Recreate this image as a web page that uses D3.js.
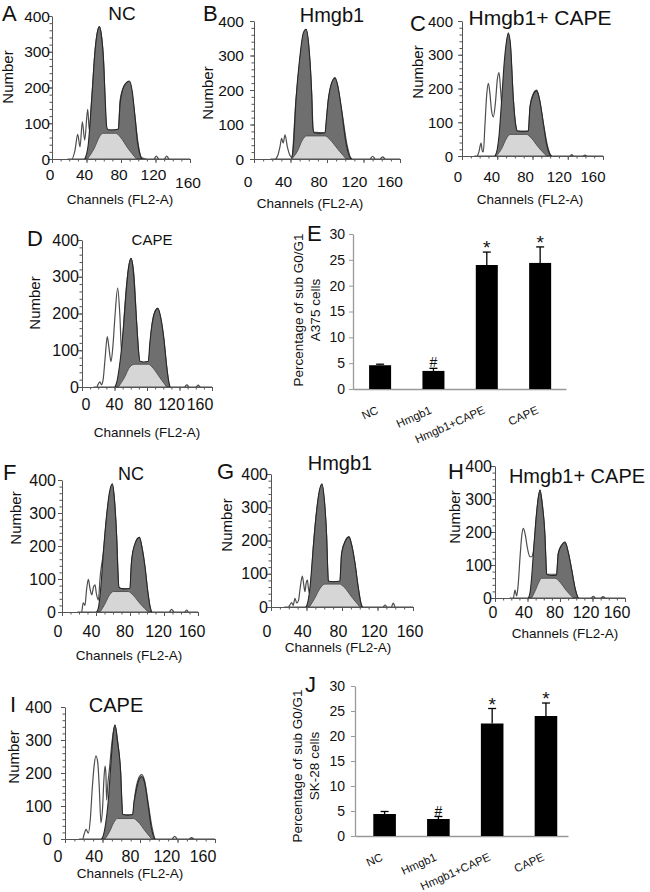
<!DOCTYPE html>
<html><head><meta charset="utf-8">
<script src="https://cdn.jsdelivr.net/npm/d3@7"></script>
<style>body{margin:0;background:#fff}svg{display:block;font-family:"Liberation Sans",Arial,sans-serif}</style>
</head><body><svg id="c" width="650" height="892"></svg>
<script>
// ---------- data ----------
const channelTicks = [0, 40, 80, 120, 160];
const countTicks = [0, 100, 200, 300, 400];
const pctTicks = [0, 5, 10, 15, 20, 25, 30];
const groups = ["NC", "Hmgb1", "Hmgb1+CAPE", "CAPE"];

// histograms: [channel, number]
const rawA = [[18,0],[23,0],[26.7,25],[29.8,69],[32.5,34],[35.2,104],[37.9,53],[41.4,139],[43.3,80],[46,165],[50,305],[55,370],[59.5,286],[63.4,81],[70,81],[77,81],[79,165],[84,205],[89.6,216],[93,180],[96.2,118],[100,40],[104,3],[110,0],[118,0],[121,8],[124,0],[130,0],[133,8],[136,0],[160,0]];
const modelA = [[38,0],[42,40],[46,165],[50,305],[53,360],[55,370],[57,350],[59.5,286],[62,150],[63.4,90],[65,82],[70,81],[77,84],[78.8,150],[82,195],[86,213],[89.6,218],[93,190],[96.2,118],[99,50],[102,12],[104,0]];
const sA = [[41,0],[49,30],[55,62],[59,72],[74,72],[79,62],[88,30],[98,0]];

const rawB = [[18,0],[23,0],[26,10],[28.5,36],[30.3,60],[32,46],[34,70],[36.5,36],[39.5,10],[41.3,5],[46,171],[57,376],[63.2,190],[65,78],[77.8,76],[81.4,171],[88.8,236],[96,142],[102,40],[107,0],[127,0],[130,8],[133,0],[138,0],[141,6],[144,0],[160,0]];
const modelB = [[41.3,0],[43,30],[46,171],[50,290],[54,365],[57,376],[60,330],[63.2,190],[64.5,90],[66,76],[72,74],[77.8,76],[79.5,120],[81.4,171],[85,220],[88.8,234],[92,210],[96,142],[100,60],[104,12],[107,0]];
const sB = [[41.3,0],[48,25],[53,55],[57.7,67],[78,67],[83,57],[92,28],[101,0]];

const rawC = [[14,0],[16.7,0],[19,10],[21.6,38],[23,15],[24.2,12],[26,90],[28,180],[29.9,215],[31.5,190],[33.5,135],[35.6,116],[38,160],[40,225],[42,247],[44,190],[46.2,127],[48,180],[50,300],[52.6,365],[55,320],[58.3,166],[61,90],[62.8,74],[75.3,74],[77.2,146],[81,185],[84.8,195],[88,165],[92.3,97],[97,30],[101.8,0],[122,0],[124.5,4],[127,0],[137,0],[139.6,3],[142,0],[160,0]];
const modelC = [[37.5,0],[40,20],[42,60],[45,166],[48,280],[50.5,340],[52.6,363],[55,330],[58.3,166],[61,90],[62.8,74],[70,72],[75.3,74],[77.2,146],[81,182],[84.8,193],[88,168],[92.3,97],[96,35],[99,8],[101.8,0]];
const sC = [[39,0],[45,22],[50,50],[54.5,64],[73.5,64],[79,52],[87,25],[96,0]];

const rawD = [[14,0],[18,0],[20,8],[22,14],[24,6],[26,20],[28.5,80],[31.1,137],[33,110],[35.7,69],[38,110],[40.5,190],[43.9,269],[46.5,200],[48.9,91],[50.8,155],[55,280],[60.3,350],[64,300],[67.3,173],[71.4,66],[81.6,68],[85.8,164],[89,200],[93.2,214],[97,185],[100.9,128],[104.5,50],[108.3,0],[126,0],[129,6],[132,0],[140,0],[143,5],[146,0],[160,0]];
const modelD = [[40.6,0],[43,15],[46,55],[50.8,155],[54,250],[57,320],[60.3,350],[63,320],[67.3,173],[69.5,100],[71.4,70],[76,68],[81.6,70],[83.5,120],[85.8,164],[89,200],[93.2,214],[97,188],[100.9,128],[104,60],[106.5,18],[108.3,0]];
const sD = [[44.7,0],[52,25],[59,55],[65.2,62],[81.6,62],[88,50],[96,25],[104.2,0]];

const rawF = [[18,0],[23,0],[25,28],[27,20],[29,70],[31,99],[33,70],[35,52],[37,75],[38.8,82],[40.5,55],[42.7,36],[45,110],[48.6,178],[53,300],[59.2,388],[62,330],[64.3,228],[67,72],[80,70],[82,158],[86,205],[91,226],[94.5,190],[97.6,137],[101,60],[105.5,0],[126,0],[129,8],[132,0],[144,0],[146.7,6],[149,0],[160,0]];
const modelF = [[40.8,0],[43,15],[45.5,70],[48.6,178],[52,280],[56,365],[59.2,388],[62,330],[64.3,228],[65.8,120],[67,75],[72,70],[80,72],[81,120],[82,158],[86,208],[91,226],[94.5,190],[97.6,137],[101,60],[103.5,18],[105.5,0]];
const sF = [[44.7,0],[50,22],[55,48],[60.4,62],[78,62],[84,50],[92,25],[101.5,0]];

const rawG = [[15,0],[19.5,0],[21,5],[23.3,13],[25,5],[27,26],[29,12],[31,20],[33,60],[35.3,93],[37,65],[38.3,46],[39.5,70],[41,81],[42,60],[43.2,42],[45,72],[47.7,181],[52,300],[57.5,370],[60,320],[62.7,211],[64.6,76],[77.7,76],[79.6,161],[84,200],[87.9,211],[91,185],[94.6,131],[98.5,55],[102.9,0],[126,0],[128.5,6],[131,0],[135.5,0],[137.8,12],[140,0],[160,0]];
const modelG = [[39.4,0],[41.5,15],[44,60],[47.7,181],[51,280],[54.5,350],[57.5,370],[60,325],[62.7,211],[63.8,120],[64.6,78],[70,76],[77.7,78],[78.6,120],[79.6,161],[84,200],[87.9,211],[91,185],[94.6,131],[98.5,55],[101,15],[102.9,0]];
const sG = [[43.2,0],[49,25],[55,55],[60.8,69],[76.9,69],[83,58],[91,30],[100.3,0]];

const rawH = [[18,0],[22.6,0],[24.6,24],[26.7,6],[28.5,40],[31,130],[33,190],[34.9,211],[37,195],[40,150],[43,125],[45,125],[47.2,140],[51,250],[55.4,327],[58,290],[61.5,186],[63.6,72],[75.9,72],[77.9,135],[82,160],[86.2,170],[90,140],[94.4,85],[98.5,30],[102.6,0],[118,0],[121,5],[124,0],[130,0],[133,4],[136,0],[160,0]];
const modelH = [[41,0],[43,15],[45,60],[47.2,135],[50,225],[53,300],[55.4,327],[58,285],[61.5,186],[62.7,110],[63.6,72],[70,68],[75.9,70],[77,110],[77.9,135],[82,160],[86.2,168],[90,140],[94.4,85],[98.5,30],[101,8],[102.6,0]];
const sH = [[45.1,0],[50,25],[54,48],[57.4,60],[73.8,60],[80,48],[88,22],[96.4,0]];

const rawI = [[15,0],[18.9,0],[20.5,15],[22.4,29],[24.9,18],[27,60],[29,150],[31,220],[33,252],[35,230],[36.5,160],[38.4,49],[40,90],[41.5,180],[42.7,221],[43.6,200],[44.4,118],[45.8,170],[47.3,209],[50,290],[53.3,345],[56,300],[59.4,199],[61.5,73],[72.2,73],[74.7,135],[78,180],[81.8,195],[85,175],[88.9,105],[92.5,40],[96.5,0],[114,0],[117,8],[120,0],[132,0],[135,4],[138,0],[160,0]];
const modelI = [[39,0],[41,12],[43,40],[46.2,118],[49,230],[51.5,320],[53.3,345],[56,295],[59.4,199],[60.5,120],[61.5,75],[67,72],[72.2,74],[73.5,110],[74.7,128],[78,172],[81.8,189],[85,170],[88.9,98],[92,35],[94.5,8],[96,0]];
const sI = [[42.7,0],[48,25],[52,50],[55.8,62],[72.9,62],[78,52],[85,26],[92.5,0]];

// bar charts: percentage of sub G0/G1
const a375Means = [4.6, 3.5, 24.0, 24.4];
const a375Err = [0.2, 0.5, 2.5, 3.1];
const sk28Means = [4.4, 3.4, 22.5, 24.0];
const sk28Err = [0.5, 0.5, 3.0, 2.6];
const marks = ["", "#", "*", "*"];

// ---------- layout ----------
const svg = d3.select("#c");
svg.append("rect").attr("width",650).attr("height",892).attr("fill","#fff");

const histLayout = [
 {L:"A",lx:2,ly:21,title:"NC",tx:122,ty:20,ts:19,raw:rawA,model:modelA,s:sA,x0:52,x1:190,y0:159,yT:16,yr:50,fs:15.5,lx0:50,lx1:188,xly:180,lastDy:8,nx:13,ny:77,cx:120,cy:204},
 {L:"B",lx:203,ly:21,title:"Hmgb1",tx:332,ty:22,ts:20,raw:rawB,model:modelB,s:sB,x0:254,x1:400,y0:159,yT:21,yr:244,fs:15.5,lx0:248,lx1:390,xly:187,nx:213,ny:93,cx:310,cy:208},
 {L:"C",lx:410,ly:31,title:"Hmgb1+ CAPE",tx:540,ty:25,ts:21,raw:rawC,model:modelC,s:sC,x0:462,x1:603,y0:156,yT:21,yr:453,fs:15,lx0:458,lx1:593,xly:182,nx:423,ny:72,cx:530,cy:204},
 {L:"D",lx:27,ly:246,title:"CAPE",tx:152,ty:245,ts:15,raw:rawD,model:modelD,s:sD,x0:82,x1:212,y0:387,yT:240,yr:79,fs:16,lx0:86,lx1:200,xly:410,nx:40,ny:303,cx:147,cy:437},
 {L:"F",lx:3,ly:480,title:"NC",tx:131,ty:480,ts:18,raw:rawF,model:modelF,s:sF,x0:62,x1:198,y0:612,yT:480,yr:56,fs:16,lx0:58,lx1:192,xly:637,nx:21,ny:518,cx:129,cy:660},
 {L:"G",lx:217,ly:479,title:"Hmgb1",tx:340,ty:470,ts:20,raw:rawG,model:modelG,s:sG,x0:271,x1:413,y0:607,yT:474,yr:268,fs:16,lx0:267,lx1:410,xly:637,nx:232,ny:525,cx:338,cy:652},
 {L:"H",lx:448,ly:479,title:"Hmgb1+ CAPE",tx:577,ty:483,ts:20,raw:rawH,model:modelH,s:sH,x0:495,x1:625,y0:598,yT:466,yr:492,fs:16,lx0:493,lx1:617,xly:618,nx:460,ny:517,cx:565,cy:638},
 {L:"I",lx:10,ly:712,title:"CAPE",tx:116,ty:712,ts:20,raw:rawI,model:modelI,s:sI,x0:65,x1:215,y0:839,yT:707,yr:52,fs:16,lx0:58,lx1:203,xly:862,nx:19,ny:757,cx:130,cy:878}
];

function txt(g,x,y,s,size,anchor){
  return g.append("text").attr("x",x).attr("y",y).attr("font-size",size).attr("text-anchor",anchor||"start").attr("fill","#111").text(s);
}

function hist(p){
  const g = svg.append("g");
  const x = d3.scaleLinear().domain([0,160]).range([p.x0,p.x1]);
  const y = d3.scaleLinear().domain([0,400]).range([p.y0,p.yT]);
  const area = d3.area().x(d=>x(d[0])).y0(y(0)).y1(d=>y(d[1])).curve(d3.curveMonotoneX);
  g.append("path").attr("d",area(p.raw)).attr("fill","#fff").attr("stroke","#4d4d4d").attr("stroke-width",1.2);
  g.append("path").attr("d",area(p.model)).attr("fill","#6f6f6f").attr("stroke","#262626").attr("stroke-width",1.1);
  g.append("path").attr("d",area(p.s)).attr("fill","#d6d6d6").attr("stroke","#555").attr("stroke-width",1);
  // y axis
  g.append("g").attr("transform",`translate(${p.x0},0)`)
    .call(d3.axisLeft(y).tickValues(d3.range(0,401,20)).tickSize(2.5).tickSizeOuter(0).tickFormat(""));
  g.append("g").attr("transform",`translate(${p.x0},0)`)
    .call(d3.axisLeft(y).tickValues(countTicks).tickSize(4).tickSizeOuter(0).tickFormat(""))
    .select(".domain").remove();
  // x axis
  g.append("g").attr("transform",`translate(0,${p.y0})`)
    .call(d3.axisBottom(x).tickValues(d3.range(0,161,10)).tickSize(2.5).tickSizeOuter(0).tickFormat(""));
  g.append("g").attr("transform",`translate(0,${p.y0})`)
    .call(d3.axisBottom(x).tickValues(channelTicks).tickSize(4).tickSizeOuter(0).tickFormat(""))
    .select(".domain").remove();
  g.selectAll(".domain").attr("stroke","#555");
  g.selectAll(".tick line").attr("stroke","#555");
  // tick labels
  countTicks.forEach(v=>txt(g,p.yr,y(v)+5.5,String(v),p.fs,"end"));
  const lx = d3.scaleLinear().domain([0,160]).range([p.lx0,p.lx1]);
  channelTicks.forEach((v,i)=>txt(g,lx(v),p.xly+(i===4&&p.lastDy?p.lastDy:0),String(v),p.fs,"middle"));
  // titles
  txt(g,p.lx,p.ly,p.L,22);
  txt(g,p.tx,p.ty,p.title,p.ts,"middle");
  txt(g,p.cx,p.cy,"Channels  (FL2-A)",13.5,"middle");
  g.append("text").attr("transform",`translate(${p.nx},${p.ny}) rotate(-90)`).attr("text-anchor","middle")
    .attr("font-size",15).attr("fill","#111").text("Number");
}
histLayout.forEach(hist);

const barLayout = [
 {L:"E",lx:307,ly:241,means:a375Means,err:a375Err,x0:353,x1:566,y0:389,yT:234,pad:4,align:0.52,po:0.29,pi:0.5875,line2:"A375 cells",t1:303,t2:320,tcy:310},
 {L:"J",lx:305,ly:692,means:sk28Means,err:sk28Err,x0:355,x1:568,y0:836,yT:686,pad:6,align:0.63,po:0.27,pi:0.58,line2:"SK-28 cells",t1:302,t2:319,tcy:766}
];

function bars(p){
  const g = svg.append("g");
  const x = d3.scaleBand().domain(groups).range([p.x0,p.x1]).paddingInner(p.pi).paddingOuter(p.po).align(p.align);
  const y = d3.scaleLinear().domain([0,30]).range([p.y0,p.yT]);
  const ya = g.append("g").attr("transform",`translate(${p.x0},0)`)
    .call(d3.axisLeft(y).tickValues(pctTicks).tickSize(4).tickPadding(p.pad).tickSizeOuter(0));
  ya.selectAll("text").attr("font-size",14).attr("font-family","Liberation Sans, Arial, sans-serif").attr("fill","#111");
  g.append("g").attr("transform",`translate(0,${p.y0})`)
    .call(d3.axisBottom(x).tickSize(0).tickSizeOuter(0).tickFormat(""));
  g.selectAll(".domain").attr("stroke","#999").attr("stroke-width",1.3);
  g.selectAll(".tick line").attr("stroke","#999");
  g.selectAll(".bar").data(groups).join("rect")
    .attr("x",d=>x(d)).attr("width",x.bandwidth())
    .attr("y",(d,i)=>y(p.means[i])).attr("height",(d,i)=>y(0)-y(p.means[i]))
    .attr("fill","#000");
  groups.forEach((d,i)=>{
    const cx = x(d)+x.bandwidth()/2;
    const top = y(p.means[i]+p.err[i]);
    g.append("line").attr("x1",cx).attr("x2",cx).attr("y1",y(p.means[i])).attr("y2",top).attr("stroke","#000").attr("stroke-width",1.3);
    g.append("line").attr("x1",cx-4).attr("x2",cx+4).attr("y1",top).attr("y2",top).attr("stroke","#000").attr("stroke-width",1.3);
    if(marks[i]==="*") txt(g,cx,top+2,"*",19,"middle");
    else if(marks[i]==="#") txt(g,cx,top-1,"#",14,"middle");
    g.append("text").attr("transform",`translate(${cx-1},${p.y0+24}) rotate(-24)`).attr("text-anchor","end")
      .attr("font-size",11.5).attr("fill","#111").text(d);
  });
  txt(g,p.lx,p.ly,p.L,22);
  g.append("text").attr("transform",`translate(${p.t1},${p.tcy}) rotate(-90)`).attr("text-anchor","middle")
    .attr("font-size",13.5).attr("fill","#111").text("Percentage of sub G0/G1");
  g.append("text").attr("transform",`translate(${p.t2},${p.tcy}) rotate(-90)`).attr("text-anchor","middle")
    .attr("font-size",13.5).attr("fill","#111").text(p.line2);
}
barLayout.forEach(bars);
</script>
</body></html>
